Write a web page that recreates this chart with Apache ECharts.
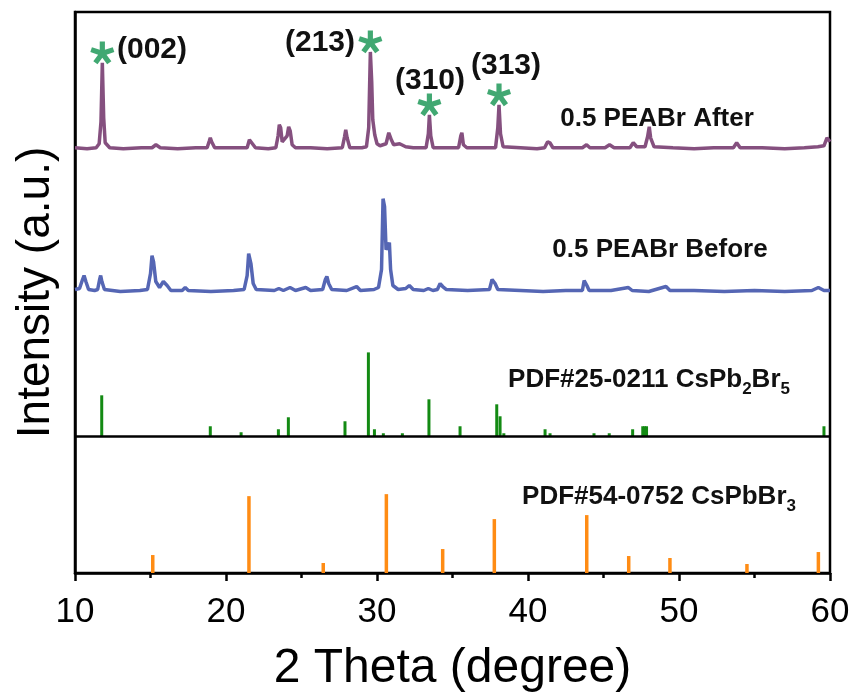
<!DOCTYPE html>
<html>
<head>
<meta charset="utf-8">
<script src="https://cdn.jsdelivr.net/npm/echarts@6/dist/echarts.min.js"></script>
<style>
  html, body { margin: 0; padding: 0; background: #fff; }
  #chart { width: 855px; height: 698px; }
</style>
</head>
<body>
<div id="chart"></div>
<script>
// baselines of the stacked patterns (same arbitrary intensity units as the y axis)
const AFTER_BASE = 424;
const BEFORE_BASE = 282;
const PDF25_BASE = 137;
const PDF54_BASE = 0;

// 0.5 PEABr After: [2theta, intensity above its baseline]
const afterXRD = [
  [10.0, 2], [10.8, 1], [11.4, 2], [11.6, 6], [11.72, 28], [11.81, 87], [11.9, 32], [12.0, 7], [12.3, 2],
  [13.2, 1], [14.4, 2], [15.1, 2], [15.36, 5], [15.65, 2], [16.8, 1], [18.0, 2],
  [18.75, 2], [18.9, 9], [18.96, 12], [19.05, 8], [19.25, 2], [20.3, 2],
  [21.4, 2], [21.55, 10], [21.63, 12], [21.75, 6], [21.95, 2], [22.8, 1],
  [23.3, 2], [23.45, 14], [23.53, 25], [23.62, 22], [23.72, 8], [23.85, 6], [24.05, 14], [24.15, 23],
  [24.25, 19], [24.38, 5], [24.6, 2], [25.6, 2], [26.7, 1],
  [27.7, 2], [27.85, 13], [27.93, 20], [28.02, 12], [28.2, 2], [29.0, 2],
  [29.3, 3], [29.45, 22], [29.56, 98], [29.65, 68], [29.72, 30], [29.85, 15], [30.0, 6], [30.2, 4],
  [30.6, 6], [30.78, 17], [30.86, 19], [30.95, 10], [31.1, 5], [31.5, 6], [31.9, 3], [32.4, 2],
  [33.25, 2], [33.4, 16], [33.47, 35], [33.56, 14], [33.72, 2], [34.6, 2],
  [35.4, 2], [35.55, 14], [35.62, 17], [35.72, 5], [35.95, 2], [37.0, 2],
  [37.85, 2], [38.0, 22], [38.08, 45], [38.18, 16], [38.35, 3], [39.5, 2], [40.6, 1],
  [41.1, 2], [41.3, 8], [41.45, 7], [41.65, 2], [42.8, 2], [43.6, 2], [43.88, 5], [44.1, 2],
  [45.1, 2], [45.4, 5], [45.7, 2], [46.75, 2], [46.97, 7], [47.2, 3],
  [47.75, 3], [47.92, 13], [48.03, 23], [48.12, 12], [48.35, 3], [49.6, 2], [51.0, 1], [52.3, 2],
  [53.6, 2], [53.82, 7], [54.05, 2], [55.5, 2], [57.0, 1], [58.3, 2], [59.2, 3], [59.6, 4], [59.8, 12], [60.0, 8]
];

// 0.5 PEABr Before
const beforeXRD = [
  [10.0, 2], [10.3, 3], [10.5, 12], [10.6, 16], [10.72, 10], [10.9, 2], [11.3, 1],
  [11.5, 2], [11.63, 12], [11.7, 16], [11.78, 10], [11.95, 2], [13.0, 0], [14.3, 1],
  [14.8, 2], [15.0, 18], [15.1, 36], [15.2, 30], [15.35, 10], [15.6, 4], [15.85, 10], [15.96, 12],
  [16.1, 6], [16.35, 1], [17.1, 1], [17.3, 4], [17.5, 1], [19.0, 0], [20.5, 1],
  [21.2, 2], [21.4, 16], [21.5, 38], [21.57, 40], [21.65, 28], [21.8, 8], [22.0, 2],
  [23.2, 1], [23.5, 3], [23.8, 1], [24.24, 4], [24.6, 1], [25.28, 4], [25.6, 1],
  [26.4, 2], [26.58, 12], [26.68, 15], [26.8, 8], [27.0, 2], [28.0, 1], [28.65, 5], [28.9, 1], [29.8, 2],
  [30.1, 4], [30.3, 22], [30.4, 93], [30.5, 85], [30.6, 42], [30.72, 45], [30.82, 49], [30.9, 22],
  [31.05, 6], [31.4, 2], [31.9, 3], [32.14, 6], [32.4, 2], [33.1, 1], [33.4, 3], [33.7, 1],
  [34.0, 2], [34.18, 8], [34.35, 5], [34.6, 2], [36.0, 1],
  [37.45, 2], [37.62, 12], [37.72, 14], [37.82, 8], [38.0, 2], [39.5, 1], [41.0, 0], [42.5, 1],
  [43.6, 1], [43.72, 11], [43.8, 13], [43.9, 6], [44.05, 1], [45.5, 1], [46.65, 4], [46.9, 1],
  [48.0, 0], [49.14, 5], [49.4, 1], [51.0, 1], [53.0, 0], [55.0, 1], [57.0, 0], [58.8, 1],
  [59.23, 4], [59.6, 1], [60.0, 1]
];

// PDF#25-0211 CsPb2Br5 reference lines
const pdf25Pos = [11.77, 18.96, 21.0, 23.47, 24.13, 27.88, 29.43, 29.83, 30.42, 31.68, 33.44, 35.5,
  37.93, 38.15, 38.4, 41.13, 41.46, 44.37, 45.38, 46.93, 47.6, 47.72, 47.85, 59.6];
const pdf25Int = [41, 10, 4, 7, 19, 15, 84, 7, 3, 3, 37, 10,
  32, 20, 3, 7, 3, 3, 3, 7, 10, 10, 10, 10];

// PDF#54-0752 CsPbBr3 reference lines
const pdf54Pos = [15.15, 21.52, 26.44, 30.62, 34.35, 37.77, 43.89, 46.67, 49.40, 54.50, 59.23];
const pdf54Int = [18, 77, 10, 79, 24, 54, 58, 17, 15, 9, 21];

// peaks of the After pattern marked with a star
const starPeaks = [11.81, 29.56, 33.47, 38.08];
const hklLabels = ['(002)', '(213)', '(310)', '(313)'];

const FONT = "'Liberation Sans', Arial, sans-serif";

function shift(points, base) {
  return points.map(p => [p[0], p[1] + base]);
}

function sticks(pos, ints) {
  return pos.map((x, i) => [x, ints[i]]);
}

function stickSeries(name, data, base, color, width) {
  return {
    name: name,
    type: 'custom',
    data: data,
    encode: { x: 0, y: 1 },
    renderItem: function (params, api) {
      const x = api.value(0);
      const h = api.value(1);
      const p0 = api.coord([x, base]);
      const p1 = api.coord([x, base + h]);
      return {
        type: 'line',
        shape: { x1: p0[0], y1: p0[1], x2: p1[0], y2: p1[1] },
        style: { stroke: color, lineWidth: width }
      };
    },
    silent: true,
    z: 3
  };
}

// five-armed asterisk like the Arial glyph
function asteriskPath() {
  const a = 0.22, L = 1, pts = [];
  for (let k = 0; k < 5; k++) {
    const t = (-90 + 72 * k) * Math.PI / 180;
    const dx = Math.cos(t), dy = Math.sin(t);
    const px = -dy, py = dx;
    pts.push([L * dx - a * px, L * dy - a * py]);
    pts.push([L * dx + a * px, L * dy + a * py]);
    const b = t + 36 * Math.PI / 180;
    const r = a / Math.sin(36 * Math.PI / 180);
    pts.push([r * Math.cos(b), r * Math.sin(b)]);
  }
  return 'path://M' + pts.map(p => (p[0] * 50).toFixed(2) + ' ' + (p[1] * 50).toFixed(2)).join(' L') + ' Z';
}

const afterLookup = {};
afterXRD.forEach(p => { afterLookup[p[0]] = p[1]; });
const starData = starPeaks.map(x => [x, AFTER_BASE + afterLookup[x]]);

const chart = echarts.init(document.getElementById('chart'));

const boldText = (text, x, y, size) => ({
  type: 'text',
  x: x, y: y,
  style: {
    text: text,
    fill: '#111',
    font: 'bold ' + size + 'px ' + FONT,
    textAlign: 'center',
    textVerticalAlign: 'middle'
  },
  z: 10
});

const subRich = {
  n: { fontSize: 26, fontWeight: 'bold', fontFamily: FONT, lineHeight: 36, fill: '#111', color: '#111' },
  s: { fontSize: 17, fontWeight: 'bold', fontFamily: FONT, lineHeight: 20, verticalAlign: 'bottom', fill: '#111', color: '#111' }
};

const option = {
  animation: false,
  backgroundColor: '#fff',
  grid: {
    left: 75, right: 25, top: 12, bottom: 124,
    show: true, borderColor: '#000', borderWidth: 2.5
  },
  xAxis: {
    type: 'value',
    min: 10, max: 60, interval: 10,
    axisLine: { lineStyle: { color: '#000', width: 2.5 } },
    axisTick: { length: 8, lineStyle: { color: '#000', width: 2.5 } },
    minorTick: { show: true, splitNumber: 2, length: 5, lineStyle: { color: '#000', width: 2.5 } },
    splitLine: { show: false },
    axisLabel: { fontSize: 35, color: '#000', margin: 22, fontFamily: FONT },
    name: '2 Theta (degree)',
    nameLocation: 'middle',
    nameGap: 72,
    nameTextStyle: { fontSize: 48, color: '#000', fontFamily: FONT }
  },
  yAxis: {
    type: 'value',
    min: 0, max: 562,
    axisLine: { show: true, lineStyle: { color: '#000', width: 2.5 } },
    axisTick: { show: false },
    axisLabel: { show: false },
    splitLine: { show: false },
    name: 'Intensity (a.u.)',
    nameLocation: 'middle',
    nameGap: 16,
    nameTextStyle: { fontSize: 46, color: '#000', fontFamily: FONT }
  },
  series: [
    {
      name: '0.5 PEABr After',
      type: 'line',
      data: shift(afterXRD, AFTER_BASE),
      showSymbol: false,
      lineStyle: { color: '#85507f', width: 3.5 },
      silent: true,
      z: 2,
      markLine: {
        silent: true,
        symbol: 'none',
        label: { show: false },
        lineStyle: { color: '#000', width: 2.5, type: 'solid' },
        data: [{ yAxis: PDF25_BASE }]
      }
    },
    {
      name: '0.5 PEABr Before',
      type: 'line',
      data: shift(beforeXRD, BEFORE_BASE),
      showSymbol: false,
      lineStyle: { color: '#5566b4', width: 3.5 },
      silent: true,
      z: 2
    },
    stickSeries('PDF#25-0211', sticks(pdf25Pos, pdf25Int), PDF25_BASE, '#138a13', 3),
    stickSeries('PDF#54-0752', sticks(pdf54Pos, pdf54Int), PDF54_BASE, '#ff8c14', 3.5),
    {
      name: 'stars',
      type: 'scatter',
      data: starData,
      symbol: asteriskPath(),
      symbolSize: 24,
      symbolKeepAspect: true,
      symbolOffset: [0, -10],
      itemStyle: { color: '#12924f' },
      silent: true,
      z: 5
    }
  ],
  graphic: [
    boldText(hklLabels[0], 152, 50, 30),
    boldText(hklLabels[1], 320, 43, 30),
    boldText(hklLabels[2], 430, 81, 30),
    boldText(hklLabels[3], 506, 66, 30),
    boldText('0.5 PEABr After', 657, 119, 26),
    boldText('0.5 PEABr Before', 660, 250, 26),
    {
      type: 'text', x: 649, y: 380,
      style: {
        text: '{n|PDF#25-0211 CsPb}{s|2}{n|Br}{s|5}',
        rich: subRich,
        textAlign: 'center', textVerticalAlign: 'middle'
      },
      z: 10
    },
    {
      type: 'text', x: 659, y: 497,
      style: {
        text: '{n|PDF#54-0752 CsPbBr}{s|3}',
        rich: subRich,
        textAlign: 'center', textVerticalAlign: 'middle'
      },
      z: 10
    }
  ]
};

chart.setOption(option);
</script>
</body>
</html>
